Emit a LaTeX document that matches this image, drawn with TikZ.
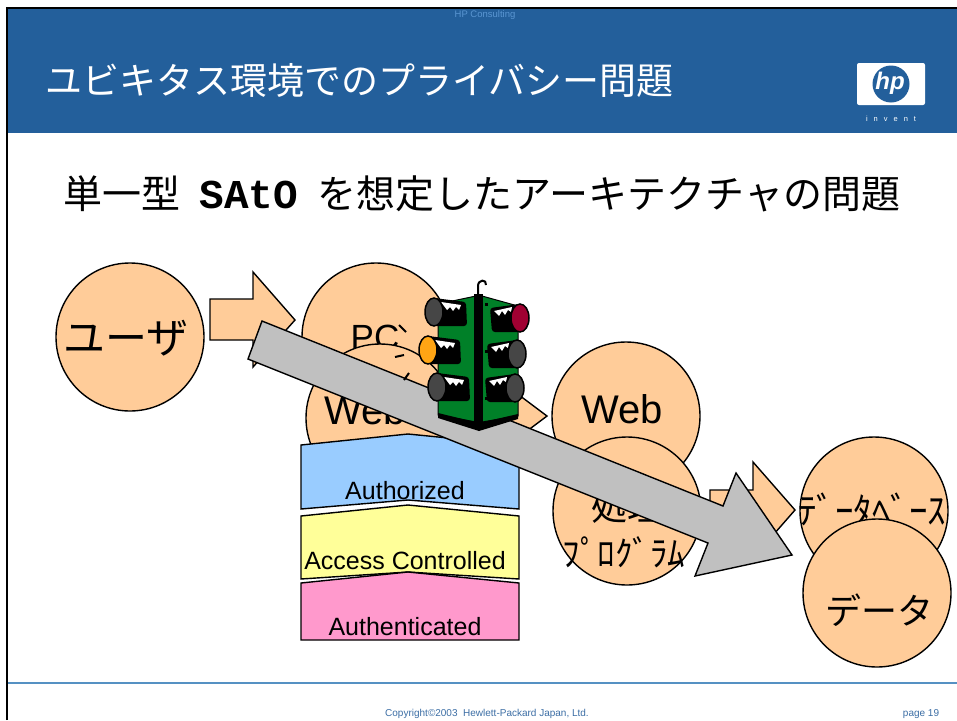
\documentclass[tikz,border=0pt]{standalone}
\usepackage{fontspec}
\setmainfont{Liberation Sans}
\newfontfamily\jp{Noto Sans CJK JP}
\newfontfamily\mono{Liberation Mono}
\usepackage{tikz}
\usetikzlibrary{calc, positioning}
\definecolor{hpblue}{RGB}{35,95,155}
\definecolor{consult}{RGB}{90,150,210}
\definecolor{peach}{RGB}{255,204,153}
\definecolor{arrowgray}{RGB}{192,192,192}
\definecolor{authblue}{RGB}{153,204,255}
\definecolor{acyellow}{RGB}{255,255,153}
\definecolor{authpink}{RGB}{255,153,204}
\definecolor{signalgreen}{RGB}{0,128,40}
\definecolor{amber}{RGB}{255,165,20}
\definecolor{lampred}{RGB}{160,0,50}
\definecolor{lampgray}{RGB}{70,70,70}
\definecolor{footblue}{RGB}{85,145,195}
\definecolor{foottext}{RGB}{60,110,165}

\tikzset{
  bubble/.style={circle, draw=black, line width=1.4pt, fill=peach, minimum size=148pt, inner sep=0pt},
  jptext/.style={font=\jp\fontsize{#1}{#1}\selectfont},
  latext/.style={font=\fontsize{#1}{#1}\selectfont},
  blockarrow/.style={draw=black, line width=1.4pt, fill=peach},
  layer/.style={draw=black, line width=1.4pt},
}

\begin{document}
\begin{tikzpicture}[x=1pt, y=-1pt]
\useasboundingbox (0,0) rectangle (957,720);
\fill[white] (0,0) rectangle (957,720);

% title bar
\fill[hpblue] (8,9) rectangle (957,133);
\draw[line width=1.5pt] (7,720) -- (7,8) -- (957,8);
\node[latext=9.5, text=consult] (dept) at (485,15) {HP Consulting};
\node[jptext=37, text=white, anchor=west] (title) at (42,81) {ユビキタス環境でのプライバシー問題};

% logo
\fill[white, rounded corners=2pt] (857,63) rectangle (925,105);
\fill[hpblue] (891,84) circle (18.5pt);
\node[text=white, font={\bfseries\itshape\fontsize{24}{24}\selectfont}] (hp) at (890,83) {hp};
\node[latext=7.5, text=white] (invent) at (891,119) {i\hspace{6pt}n\hspace{6pt}v\hspace{6pt}e\hspace{6pt}n\hspace{6pt}t};

\node[jptext=39, anchor=west] (subtitle) at (60,194)
  {単一型\hspace{19pt}{\mono\bfseries\fontsize{41}{41}\selectfont SAtO}\hspace{20pt}を想定したアーキテクチャの問題};

% user -> PC
\node[bubble] (user) at (130,337) {};
\node[jptext=42] (usertxt) at (126,338) {ユーザ};
\draw[blockarrow] (210,299) -- (253,299) -- (253,272) -- (295,320) -- (253,367) -- (253,340) -- (210,340) -- cycle;

\node[bubble] (pc) at (376,337) {};
\node[latext=35] (pctxt) at (375,337) {PC};
\node[bubble] (webl) at (380,418) {};
\node[latext=40] (webltxt) at (365,410) {Web};

% PC -> web server
\draw[blockarrow] (455,396) -- (487,396) -- (487,371) -- (547,416) -- (487,461) -- (487,436) -- (455,436) -- cycle;

% security layers
\foreach \ytop/\ybot/\bp/\col/\txt/\ty [count=\i] in
  {445/509/9/authblue/Authorized/491, 516/579/7/acyellow/Access Controlled/561, 583/640/0/authpink/Authenticated/627}
{
  \draw[layer, fill=\col] (301,\ytop) -- (408,{\ytop-11}) -- (519,\ytop) -- (519,\ybot) -- (408,{\ybot-\bp}) -- (301,\ybot) -- cycle;
  \node[latext=25] (layer\i) at (405,\ty) {\txt};
}

% server side
\node[bubble] (webr) at (626,416) {};
\node[latext=40] (webrtxt) at (622,409) {Web};
\node[bubble] (proc) at (627,511) {};
\node[jptext=36] (proctxt) at (627,507) {処理};
\node[jptext=35] (progtxt) at (624,552) {ﾌﾟﾛｸﾞﾗﾑ};

\draw[blockarrow] (710,490) -- (753,490) -- (753,462) -- (795,510) -- (753,558) -- (753,530) -- (710,530) -- cycle;

\node[bubble] (db) at (874,511) {};
\node[jptext=37] (dbtxt) at (872,510) {ﾃﾞｰﾀﾍﾞｰｽ};
\node[bubble] (data) at (877,593) {};
\node[jptext=36] (datatxt) at (879,610) {データ};

% big gray flow
\draw[line width=1.4pt, fill=arrowgray] (262,321) -- (723,506) -- (736,473) -- (792,555) -- (695,576) -- (708,543) -- (248,359) -- cycle;

% traffic light
\draw[fill=signalgreen, line width=1pt] (438,304) -- (476,296) -- (476,422) -- (438,415) -- cycle;
\draw[fill=signalgreen, line width=1pt] (482,296) -- (518,306) -- (518,416) -- (482,422) -- cycle;
\fill (474,294) rectangle (483,424);
\fill (438,413) -- (479,423) -- (518,414) -- (518,419) -- (479,431) -- (438,418) -- cycle;
\draw[line width=2pt] (478,295) -- (478,286) .. controls (478,279) and (487,279) .. (486,285);
\foreach \by in {303,350,397}
  \fill (485,\by) rectangle +(3,3);

\foreach \lx/\ly/\col in {434/312/lampgray, 428/350/amber, 437/387/lampgray}
{
  \fill[rounded corners=3pt] (\lx,{\ly-14}) -- ({\lx+32},{\ly-10}) -- ({\lx+33},{\ly+14}) -- (\lx,{\ly+14}) -- cycle;
  \fill[white] ({\lx+7},{\ly-10}) -- ({\lx+27},{\ly-7}) -- ({\lx+25},{\ly-2}) -- ({\lx+22},{\ly-5}) -- ({\lx+19},{\ly-1})
     -- ({\lx+16},{\ly-5}) -- ({\lx+13},{\ly-2}) -- ({\lx+10},{\ly-6}) -- cycle;
  \draw[fill=\col, line width=1.5pt] (\lx,\ly) ellipse [x radius=9pt, y radius=14pt];
}
\foreach \lx/\ly/\col in {520/318/lampred, 517/354/lampgray, 515/388/lampgray}
{
  \fill[rounded corners=3pt] ({\lx-30},{\ly-10}) -- (\lx,{\ly-14}) -- (\lx,{\ly+14}) -- ({\lx-28},{\ly+14}) -- cycle;
  \fill[white] ({\lx-26},{\ly-7}) -- ({\lx-8},{\ly-11}) -- ({\lx-9},{\ly-6}) -- ({\lx-12},{\ly-8}) -- ({\lx-15},{\ly-3})
     -- ({\lx-18},{\ly-7}) -- ({\lx-21},{\ly-2}) -- ({\lx-24},{\ly-5}) -- cycle;
  \draw[fill=\col, line width=1.5pt] (\lx,\ly) ellipse [x radius=9pt, y radius=14pt];
}
% rays of the amber lamp
\draw[line width=2pt] (406,332) -- (399,325);
\draw[line width=2pt] (404,355) -- (395,357);
\draw[line width=2pt] (409,373) -- (404,380);

% footer
\draw[footblue, line width=2pt] (8,683) -- (957,683);
\node[latext=10, text=foottext] (copyright) at (487,714) {Copyright©2003\ \ Hewlett-Packard Japan, Ltd.};
\node[latext=10, text=foottext] (page) at (921,714) {page 19};
\end{tikzpicture}
\end{document}
